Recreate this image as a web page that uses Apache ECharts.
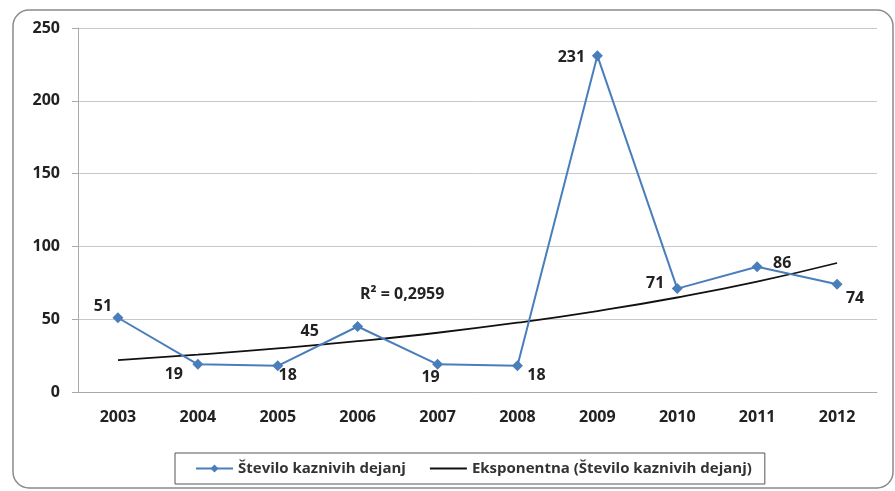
<!DOCTYPE html>
<html>
<head>
<meta charset="utf-8">
<script src="https://cdn.jsdelivr.net/npm/echarts@6/dist/echarts.min.js"></script>
<style>
  html, body { margin: 0; padding: 0; background: #fff; }
  #chart { width: 895px; height: 491px; }
</style>
</head>
<body>
<div id="chart"></div>
<script>
  // podatki
  const years = ['2003', '2004', '2005', '2006', '2007', '2008', '2009', '2010', '2011', '2012'];
  const dejanja = [51, 19, 18, 45, 19, 18, 231, 71, 86, 74];
  // eksponentna trendna črta, odčitana s slike
  const trend = [21.9, 25.6, 29.9, 34.9, 40.7, 47.6, 55.6, 64.9, 75.8, 88.6];
  // zamik oznak od točke (px)
  const labelOffset = [[-15, -11], [-24, 10], [10, 10], [-48, 5], [-7, 13], [19, 10], [-26, 2], [-22, -5], [25, -3], [18, 14]];

  const chart = echarts.init(document.getElementById('chart'));
  const font = 'Open Sans, DejaVu Sans, sans-serif';

  const option = {
    animation: false,
    textStyle: { fontFamily: font },
    grid: { left: 78, right: 18, top: 28, bottom: 99 },
    graphic: [
      {
        type: 'rect',
        shape: { x: 13, y: 10, width: 880, height: 478, r: 16 },
        style: { fill: 'none', stroke: '#8a8a8a', lineWidth: 1.5 },
        silent: true
      },
      {
        type: 'text',
        left: 360,
        top: 286,
        style: { text: 'R² = 0,2959', font: 'bold 16px ' + font, fill: '#222' }
      }
    ],
    legend: {
      left: 175,
      top: 453,
      padding: [8, 13, 8, 20],
      itemGap: 23,
      itemWidth: 37,
      itemHeight: 10,
      borderColor: '#555',
      borderWidth: 1,
      textStyle: { fontSize: 15, fontWeight: 'bold', color: '#333', fontFamily: font },
      data: [
        { name: 'Število kaznivih dejanj' },
        { name: 'Eksponentna (Število kaznivih dejanj)', itemStyle: { opacity: 0 } }
      ]
    },
    xAxis: {
      type: 'category',
      data: years,
      axisLine: { lineStyle: { color: '#aaa' } },
      axisTick: { length: 6, lineStyle: { color: '#aaa' } },
      axisLabel: { fontSize: 16, fontWeight: 'bold', color: '#222', margin: 17 }
    },
    yAxis: {
      type: 'value',
      min: 0,
      max: 250,
      interval: 50,
      axisLine: { show: true, lineStyle: { color: '#aaa' } },
      axisTick: { show: true, length: 6, lineStyle: { color: '#aaa' } },
      axisLabel: { fontSize: 16, fontWeight: 'bold', color: '#222', margin: 18 },
      splitLine: { lineStyle: { color: '#c8c8c8' } }
    },
    series: [
      {
        name: 'Število kaznivih dejanj',
        type: 'line',
        data: dejanja.map((v, i) => ({
          value: v,
          label: { offset: labelOffset[i] }
        })),
        symbol: 'diamond',
        symbolSize: 11,
        itemStyle: { color: '#4a7ebb' },
        lineStyle: { color: '#4a7ebb', width: 2 },
        label: { show: true, position: 'inside', fontSize: 16, fontWeight: 'bold', color: '#222' },
        z: 3
      },
      {
        name: 'Eksponentna (Število kaznivih dejanj)',
        type: 'line',
        data: trend,
        smooth: true,
        symbol: 'none',
        itemStyle: { color: '#000' },
        lineStyle: { color: '#111', width: 1.8 },
        z: 2
      }
    ]
  };

  chart.setOption(option);
</script>
</body>
</html>
